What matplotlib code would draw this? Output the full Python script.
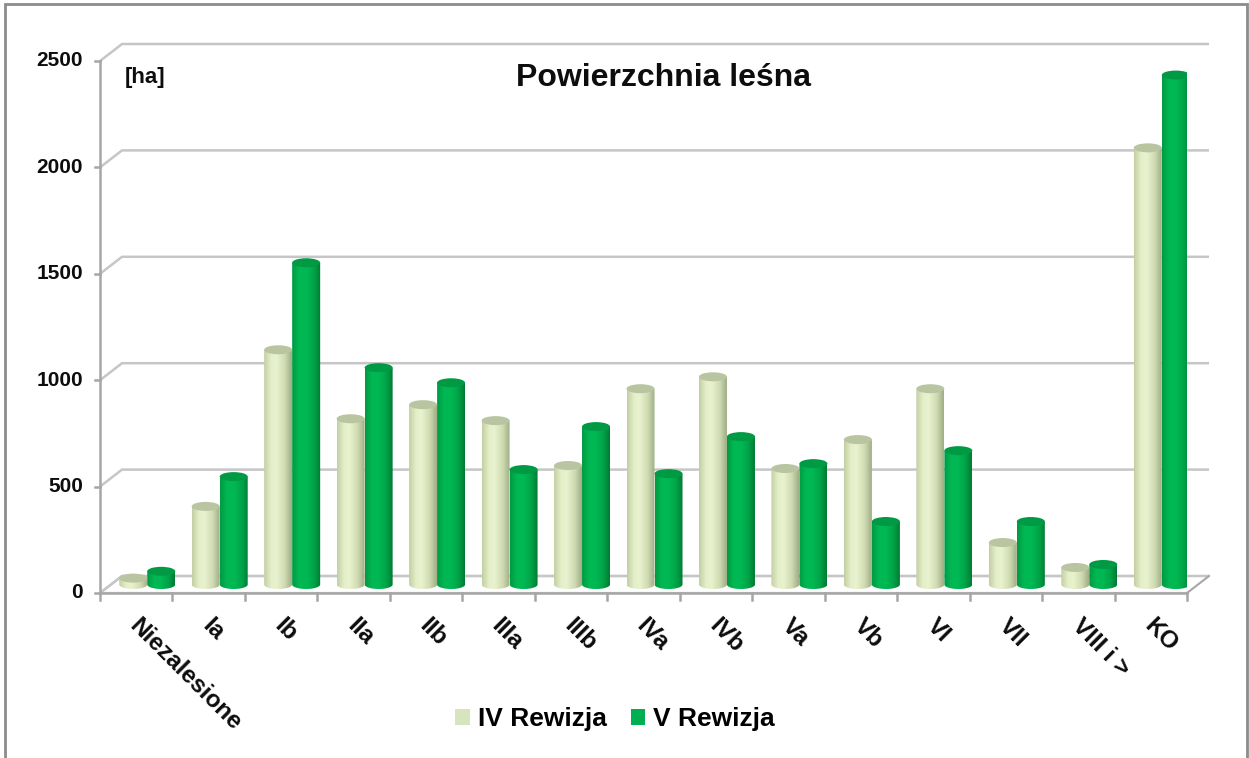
import numpy as np
import matplotlib
matplotlib.use("Agg")
import matplotlib.pyplot as plt
from matplotlib.patches import Polygon, Ellipse, Patch, Rectangle
from matplotlib.colors import to_rgb

plt.rcParams['font.family'] = ['Liberation Sans', 'DejaVu Sans']
plt.rcParams['font.weight'] = 'bold'

categories = ["Niezalesione", "Ia", "Ib", "IIa", "IIb", "IIIa", "IIIb", "IVa",
              "IVb", "Va", "Vb", "VI", "VII", "VIII i >", "KO"]
rewizja_iv = [30, 367, 1103, 779, 845, 770, 559, 920, 976, 545, 681, 920, 197, 80, 2052]
rewizja_v = [62, 507, 1512, 1019, 948, 540, 742, 521, 695, 568, 296, 629, 296, 94, 2394]
series_names = ["IV Rewizja", "V Rewizja"]
y_ticks = [0, 500, 1000, 1500, 2000, 2500]
title = "Powierzchnia leśna"
unit = "[ha]"

W, H = 1249, 758
fig = plt.figure(figsize=(W / 100, H / 100), dpi=100)
ax_l, ax_r, ax_b, ax_t = 100, 1187, 593, 61
ax = fig.add_axes([ax_l / W, 1 - ax_b / H, (ax_r - ax_l) / W, (ax_b - ax_t) / H])
ax.set_axis_off()
n = len(categories)
ymax = 2500
px_x = (ax_r - ax_l) / n
px_y = (ax_b - ax_t) / ymax
DX = 22 / px_x
DY = 17 / px_y

grid_c = "#C6C6C6"
axis_c = "#A6A6A6"
txt_c = "#0D0D0D"

floor = Polygon([(0, 0), (n, 0), (n + DX, DY), (DX, DY)], closed=True,
                facecolor="white", edgecolor=grid_c, lw=1.6, zorder=1)
ax.add_patch(floor)
for v in y_ticks:
    ax.plot([0, DX, n + DX], [v, v + DY, v + DY], color=grid_c, lw=1.8,
            solid_capstyle='butt', zorder=1, clip_on=False)
ax.plot([0, n], [0, 0], color=axis_c, lw=1.8, zorder=2, clip_on=False)
ax.plot([n, n + DX], [0, DY], color=axis_c, lw=1.5, zorder=2, clip_on=False)
ax.plot([0, 0], [0, ymax], color=axis_c, lw=1.8, zorder=2, clip_on=False)
for v in y_ticks:
    ax.plot([-5 / px_x, 0], [v, v], color=axis_c, lw=1.8, zorder=2, clip_on=False)
    ax.text(-17 / px_x, v, f"{v}", ha="right", va="center", fontsize=15,
            fontweight="bold", color=txt_c)
for i in range(n + 1):
    ax.plot([i, i], [0, -7 / px_y], color=axis_c, lw=1.8, zorder=2, clip_on=False)
for i, c in enumerate(categories):
    ax.text(i + 0.5 + 5 / px_x, -21 / px_y, c, ha="left", va="top", rotation=-45,
            rotation_mode="anchor", fontsize=17.5, fontweight="bold", color=txt_c)


def gradient(stops, npts=64):
    ts = np.linspace(0, 1, npts)
    pos = [s[0] for s in stops]
    cols = np.array([to_rgb(s[1]) for s in stops])
    return np.stack([np.interp(ts, pos, cols[:, k]) for k in range(3)], axis=1)


light_stops = [(0, "#C3CFA3"), (0.25, "#E4EFC9"), (0.45, "#E8F2CE"),
               (0.75, "#CFDAB1"), (1, "#9FAE86")]
green_stops = [(0, "#009A43"), (0.25, "#00B853"), (0.5, "#00B853"),
               (0.78, "#00A247"), (1, "#007A33")]
light_top = "#B9C4A1"
green_top = "#009A45"
light_grad = gradient(light_stops)
green_grad = gradient(green_stops)

bw = 28 / px_x
EH = 9 / px_y
base = DY / 2


def cylinder(x0, val, grad, topc, z):
    x1 = x0 + bw
    top = base + val
    th = np.linspace(np.pi, 2 * np.pi, 40)
    cx = (x0 + x1) / 2
    bx = cx + (bw / 2) * np.cos(th)
    by = base + (EH / 2) * np.sin(th)
    verts = [(x0, top)] + list(zip(bx, by)) + [(x1, top)]
    poly = Polygon(verts, closed=True, facecolor="none", edgecolor="none", zorder=z)
    ax.add_patch(poly)
    im = ax.imshow(grad[np.newaxis, :, :], extent=[x0, x1, base - EH, top],
                   aspect="auto", origin="lower", zorder=z, interpolation="bilinear")
    im.set_clip_path(poly)
    ax.add_patch(Ellipse((cx, top), bw, EH, facecolor=topc, edgecolor="none",
                         zorder=z + 0.1))


for i in range(n):
    c = i + 0.5 + DX / 2
    cylinder(c - bw, rewizja_iv[i], light_grad, light_top, 3 + i * 0.01)
    cylinder(c, rewizja_v[i], green_grad, green_top, 3.005 + i * 0.01)

ax.set_xlim(0, n)
ax.set_ylim(0, ymax)

fig.text(663 / W, 1 - 78 / H, title, ha="center", va="center", fontsize=23,
         fontweight="bold", color=txt_c)
fig.text(125 / W, 1 - 77 / H, unit, ha="left", va="center", fontsize=16,
         fontweight="bold", color=txt_c)

handles = [Patch(facecolor="#D7E4BD", edgecolor="none"),
           Patch(facecolor="#00B050", edgecolor="none")]
fig.legend(handles, series_names, loc="center", bbox_to_anchor=(615 / W, 1 - 719 / H),
           ncol=2, frameon=False, prop={"size": 19, "weight": "bold"},
           handlelength=0.55, handleheight=0.55, handletextpad=0.3, columnspacing=0.9)

fig.add_artist(Rectangle((5 / W, -0.02), (1247 - 5) / W, 1.02 - 4 / H,
                         transform=fig.transFigure, fill=False, edgecolor="#8C8C8C", lw=2))

fig.savefig("out.png", dpi=100)
